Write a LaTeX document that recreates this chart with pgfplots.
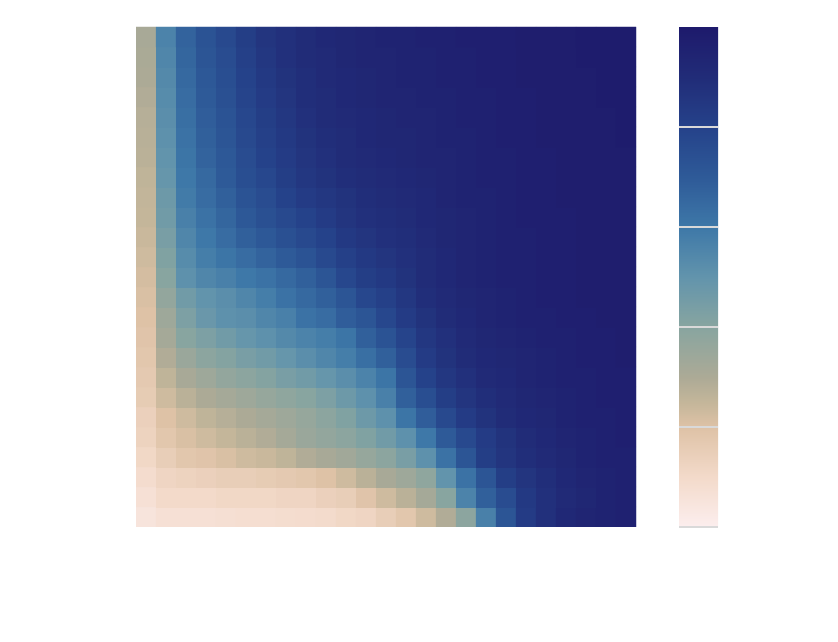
\documentclass[border=0pt]{standalone}
\usepackage{pgfplots}
\pgfplotsset{compat=1.18}
\begin{document}
\begin{tikzpicture}
\begin{axis}[name=main, width=500bp, height=500bp, scale only axis,
  xmin=-0.5, xmax=24.5, ymin=-0.5, ymax=24.5, ticks=none,
  axis line style={draw=none},
  colormap={rainmap}{rgb255(0cm)=(252,238,238); rgb255(2cm)=(243,218,202); rgb255(4cm)=(222,194,166); rgb255(5cm)=(196,182,154); rgb255(6cm)=(172,170,150); rgb255(8cm)=(136,165,160); rgb255(10cm)=(98,148,172); rgb255(12cm)=(62,120,168); rgb255(14cm)=(46,90,152); rgb255(16cm)=(37,66,138); rgb255(18cm)=(33,44,120); rgb255(20cm)=(30,26,108)},
  point meta min=0, point meta max=1,
  colorbar,
  colorbar/width=39bp,
  colorbar shift/.style={xshift=43bp},
  colorbar style={scale only axis,
    ytick={0,0.2,0.4,0.6,0.8}, yticklabels={}, major tick length=0pt,
    ymajorgrids, major grid style={white!70!gray, line width=1.2bp}, axis line style={draw=none}},
]
\addplot[matrix plot*, mesh/cols=25, mesh/ordering=x varies, point meta=explicit] table[meta=z, row sep=\\] {
x y z\\
0 0 0.05\\ 1 0 0.07\\ 2 0 0.07\\ 3 0 0.07\\ 4 0 0.075\\ 5 0 0.08\\ 6 0 0.08\\ 7 0 0.085\\ 8 0 0.09\\ 9 0 0.095\\ 10 0 0.11\\ 11 0 0.12\\ 12 0 0.15\\ 13 0 0.18\\ 14 0 0.23\\ 15 0 0.29\\ 16 0 0.39\\ 17 0 0.57\\ 18 0 0.72\\ 19 0 0.83\\ 20 0 0.88\\ 21 0 0.92\\ 22 0 0.94\\ 23 0 0.95\\ 24 0 0.96\\
0 1 0.07\\ 1 1 0.10\\ 2 1 0.10\\ 3 1 0.10\\ 4 1 0.11\\ 5 1 0.11\\ 6 1 0.11\\ 7 1 0.12\\ 8 1 0.12\\ 9 1 0.14\\ 10 1 0.15\\ 11 1 0.19\\ 12 1 0.23\\ 13 1 0.27\\ 14 1 0.32\\ 15 1 0.40\\ 16 1 0.56\\ 17 1 0.68\\ 18 1 0.76\\ 19 1 0.84\\ 20 1 0.88\\ 21 1 0.91\\ 22 1 0.93\\ 23 1 0.95\\ 24 1 0.96\\
0 2 0.09\\ 1 2 0.12\\ 2 2 0.13\\ 3 2 0.14\\ 4 2 0.15\\ 5 2 0.15\\ 6 2 0.16\\ 7 2 0.17\\ 8 2 0.18\\ 9 2 0.20\\ 10 2 0.23\\ 11 2 0.27\\ 12 2 0.31\\ 13 2 0.34\\ 14 2 0.38\\ 15 2 0.50\\ 16 2 0.62\\ 17 2 0.72\\ 18 2 0.82\\ 19 2 0.86\\ 20 2 0.89\\ 21 2 0.92\\ 22 2 0.94\\ 23 2 0.95\\ 24 2 0.96\\
0 3 0.11\\ 1 3 0.15\\ 2 3 0.18\\ 3 3 0.19\\ 4 3 0.21\\ 5 3 0.23\\ 6 3 0.24\\ 7 3 0.26\\ 8 3 0.29\\ 9 3 0.31\\ 10 3 0.33\\ 11 3 0.36\\ 12 3 0.39\\ 13 3 0.44\\ 14 3 0.51\\ 15 3 0.62\\ 16 3 0.72\\ 17 3 0.82\\ 18 3 0.86\\ 19 3 0.89\\ 20 3 0.91\\ 21 3 0.93\\ 22 3 0.95\\ 23 3 0.96\\ 24 3 0.96\\
0 4 0.13\\ 1 4 0.18\\ 2 4 0.21\\ 3 4 0.23\\ 4 4 0.25\\ 5 4 0.27\\ 6 4 0.29\\ 7 4 0.32\\ 8 4 0.35\\ 9 4 0.37\\ 10 4 0.39\\ 11 4 0.42\\ 12 4 0.46\\ 13 4 0.51\\ 14 4 0.60\\ 15 4 0.70\\ 16 4 0.77\\ 17 4 0.83\\ 18 4 0.87\\ 19 4 0.90\\ 20 4 0.92\\ 21 4 0.94\\ 22 4 0.95\\ 23 4 0.96\\ 24 4 0.97\\
0 5 0.14\\ 1 5 0.20\\ 2 5 0.23\\ 3 5 0.26\\ 4 5 0.28\\ 5 5 0.30\\ 6 5 0.32\\ 7 5 0.34\\ 8 5 0.36\\ 9 5 0.39\\ 10 5 0.42\\ 11 5 0.47\\ 12 5 0.51\\ 13 5 0.61\\ 14 5 0.69\\ 15 5 0.77\\ 16 5 0.83\\ 17 5 0.87\\ 18 5 0.90\\ 19 5 0.92\\ 20 5 0.93\\ 21 5 0.95\\ 22 5 0.96\\ 23 5 0.96\\ 24 5 0.97\\
0 6 0.16\\ 1 6 0.23\\ 2 6 0.27\\ 3 6 0.30\\ 4 6 0.32\\ 5 6 0.34\\ 6 6 0.36\\ 7 6 0.38\\ 8 6 0.40\\ 9 6 0.43\\ 10 6 0.47\\ 11 6 0.51\\ 12 6 0.57\\ 13 6 0.68\\ 14 6 0.75\\ 15 6 0.82\\ 16 6 0.86\\ 17 6 0.89\\ 18 6 0.91\\ 19 6 0.93\\ 20 6 0.94\\ 21 6 0.95\\ 22 6 0.96\\ 23 6 0.97\\ 24 6 0.97\\
0 7 0.17\\ 1 7 0.26\\ 2 7 0.31\\ 3 7 0.34\\ 4 7 0.37\\ 5 7 0.39\\ 6 7 0.41\\ 7 7 0.44\\ 8 7 0.46\\ 9 7 0.49\\ 10 7 0.52\\ 11 7 0.56\\ 12 7 0.61\\ 13 7 0.72\\ 14 7 0.80\\ 15 7 0.85\\ 16 7 0.88\\ 17 7 0.91\\ 18 7 0.92\\ 19 7 0.94\\ 20 7 0.95\\ 21 7 0.96\\ 22 7 0.96\\ 23 7 0.97\\ 24 7 0.97\\
0 8 0.18\\ 1 8 0.29\\ 2 8 0.35\\ 3 8 0.39\\ 4 8 0.41\\ 5 8 0.44\\ 6 8 0.46\\ 7 8 0.49\\ 8 8 0.52\\ 9 8 0.55\\ 10 8 0.58\\ 11 8 0.63\\ 12 8 0.68\\ 13 8 0.76\\ 14 8 0.83\\ 15 8 0.87\\ 16 8 0.90\\ 17 8 0.92\\ 18 8 0.93\\ 19 8 0.94\\ 20 8 0.95\\ 21 8 0.96\\ 22 8 0.97\\ 23 8 0.97\\ 24 8 0.98\\
0 9 0.19\\ 1 9 0.32\\ 2 9 0.40\\ 3 9 0.43\\ 4 9 0.46\\ 5 9 0.49\\ 6 9 0.51\\ 7 9 0.54\\ 8 9 0.56\\ 9 9 0.58\\ 10 9 0.61\\ 11 9 0.68\\ 12 9 0.73\\ 13 9 0.79\\ 14 9 0.85\\ 15 9 0.88\\ 16 9 0.91\\ 17 9 0.93\\ 18 9 0.94\\ 19 9 0.95\\ 20 9 0.96\\ 21 9 0.96\\ 22 9 0.97\\ 23 9 0.97\\ 24 9 0.98\\
0 10 0.20\\ 1 10 0.34\\ 2 10 0.43\\ 3 10 0.48\\ 4 10 0.51\\ 5 10 0.52\\ 6 10 0.55\\ 7 10 0.57\\ 8 10 0.62\\ 9 10 0.64\\ 10 10 0.69\\ 11 10 0.72\\ 12 10 0.78\\ 13 10 0.83\\ 14 10 0.87\\ 15 10 0.90\\ 16 10 0.92\\ 17 10 0.94\\ 18 10 0.95\\ 19 10 0.96\\ 20 10 0.96\\ 21 10 0.97\\ 22 10 0.97\\ 23 10 0.98\\ 24 10 0.98\\
0 11 0.21\\ 1 11 0.37\\ 2 11 0.46\\ 3 11 0.50\\ 4 11 0.52\\ 5 11 0.55\\ 6 11 0.58\\ 7 11 0.62\\ 8 11 0.65\\ 9 11 0.68\\ 10 11 0.72\\ 11 11 0.78\\ 12 11 0.81\\ 13 11 0.85\\ 14 11 0.89\\ 15 11 0.91\\ 16 11 0.93\\ 17 11 0.94\\ 18 11 0.95\\ 19 11 0.96\\ 20 11 0.97\\ 21 11 0.97\\ 22 11 0.98\\ 23 11 0.98\\ 24 11 0.98\\
0 12 0.22\\ 1 12 0.40\\ 2 12 0.51\\ 3 12 0.55\\ 4 12 0.57\\ 5 12 0.60\\ 6 12 0.62\\ 7 12 0.65\\ 8 12 0.68\\ 9 12 0.72\\ 10 12 0.78\\ 11 12 0.82\\ 12 12 0.84\\ 13 12 0.87\\ 14 12 0.90\\ 15 12 0.92\\ 16 12 0.94\\ 17 12 0.95\\ 18 12 0.96\\ 19 12 0.96\\ 20 12 0.97\\ 21 12 0.97\\ 22 12 0.98\\ 23 12 0.98\\ 24 12 0.98\\
0 13 0.23\\ 1 13 0.42\\ 2 13 0.53\\ 3 13 0.58\\ 4 13 0.61\\ 5 13 0.64\\ 6 13 0.67\\ 7 13 0.70\\ 8 13 0.73\\ 9 13 0.77\\ 10 13 0.81\\ 11 13 0.84\\ 12 13 0.86\\ 13 13 0.88\\ 14 13 0.90\\ 15 13 0.92\\ 16 13 0.94\\ 17 13 0.95\\ 18 13 0.96\\ 19 13 0.96\\ 20 13 0.97\\ 21 13 0.97\\ 22 13 0.98\\ 23 13 0.98\\ 24 13 0.98\\
0 14 0.24\\ 1 14 0.44\\ 2 14 0.55\\ 3 14 0.60\\ 4 14 0.64\\ 5 14 0.68\\ 6 14 0.71\\ 7 14 0.74\\ 8 14 0.77\\ 9 14 0.80\\ 10 14 0.84\\ 11 14 0.86\\ 12 14 0.88\\ 13 14 0.89\\ 14 14 0.91\\ 15 14 0.93\\ 16 14 0.94\\ 17 14 0.95\\ 18 14 0.96\\ 19 14 0.96\\ 20 14 0.97\\ 21 14 0.97\\ 22 14 0.98\\ 23 14 0.98\\ 24 14 0.98\\
0 15 0.25\\ 1 15 0.46\\ 2 15 0.57\\ 3 15 0.62\\ 4 15 0.66\\ 5 15 0.71\\ 6 15 0.74\\ 7 15 0.77\\ 8 15 0.80\\ 9 15 0.83\\ 10 15 0.86\\ 11 15 0.88\\ 12 15 0.89\\ 13 15 0.90\\ 14 15 0.92\\ 15 15 0.93\\ 16 15 0.94\\ 17 15 0.95\\ 18 15 0.96\\ 19 15 0.97\\ 20 15 0.97\\ 21 15 0.97\\ 22 15 0.98\\ 23 15 0.98\\ 24 15 0.98\\
0 16 0.255\\ 1 16 0.47\\ 2 16 0.59\\ 3 16 0.64\\ 4 16 0.68\\ 5 16 0.73\\ 6 16 0.76\\ 7 16 0.80\\ 8 16 0.83\\ 9 16 0.85\\ 10 16 0.87\\ 11 16 0.89\\ 12 16 0.90\\ 13 16 0.91\\ 14 16 0.92\\ 15 16 0.94\\ 16 16 0.95\\ 17 16 0.95\\ 18 16 0.96\\ 19 16 0.97\\ 20 16 0.97\\ 21 16 0.98\\ 22 16 0.98\\ 23 16 0.98\\ 24 16 0.98\\
0 17 0.26\\ 1 17 0.49\\ 2 17 0.60\\ 3 17 0.65\\ 4 17 0.70\\ 5 17 0.75\\ 6 17 0.78\\ 7 17 0.82\\ 8 17 0.85\\ 9 17 0.87\\ 10 17 0.89\\ 11 17 0.90\\ 12 17 0.91\\ 13 17 0.92\\ 14 17 0.93\\ 15 17 0.94\\ 16 17 0.95\\ 17 17 0.96\\ 18 17 0.96\\ 19 17 0.97\\ 20 17 0.97\\ 21 17 0.98\\ 22 17 0.98\\ 23 17 0.98\\ 24 17 0.98\\
0 18 0.27\\ 1 18 0.50\\ 2 18 0.61\\ 3 18 0.67\\ 4 18 0.71\\ 5 18 0.76\\ 6 18 0.80\\ 7 18 0.83\\ 8 18 0.86\\ 9 18 0.88\\ 10 18 0.90\\ 11 18 0.91\\ 12 18 0.92\\ 13 18 0.93\\ 14 18 0.94\\ 15 18 0.94\\ 16 18 0.95\\ 17 18 0.96\\ 18 18 0.96\\ 19 18 0.97\\ 20 18 0.97\\ 21 18 0.98\\ 22 18 0.98\\ 23 18 0.98\\ 24 18 0.98\\
0 19 0.275\\ 1 19 0.51\\ 2 19 0.62\\ 3 19 0.68\\ 4 19 0.72\\ 5 19 0.77\\ 6 19 0.81\\ 7 19 0.84\\ 8 19 0.87\\ 9 19 0.89\\ 10 19 0.90\\ 11 19 0.92\\ 12 19 0.93\\ 13 19 0.93\\ 14 19 0.94\\ 15 19 0.95\\ 16 19 0.95\\ 17 19 0.96\\ 18 19 0.97\\ 19 19 0.97\\ 20 19 0.98\\ 21 19 0.98\\ 22 19 0.98\\ 23 19 0.98\\ 24 19 0.99\\
0 20 0.28\\ 1 20 0.52\\ 2 20 0.63\\ 3 20 0.69\\ 4 20 0.73\\ 5 20 0.78\\ 6 20 0.82\\ 7 20 0.85\\ 8 20 0.88\\ 9 20 0.90\\ 10 20 0.91\\ 11 20 0.92\\ 12 20 0.93\\ 13 20 0.94\\ 14 20 0.94\\ 15 20 0.95\\ 16 20 0.96\\ 17 20 0.96\\ 18 20 0.97\\ 19 20 0.97\\ 20 20 0.98\\ 21 20 0.98\\ 22 20 0.98\\ 23 20 0.98\\ 24 20 0.99\\
0 21 0.29\\ 1 21 0.53\\ 2 21 0.64\\ 3 21 0.70\\ 4 21 0.74\\ 5 21 0.79\\ 6 21 0.83\\ 7 21 0.86\\ 8 21 0.89\\ 9 21 0.90\\ 10 21 0.92\\ 11 21 0.93\\ 12 21 0.94\\ 13 21 0.94\\ 14 21 0.95\\ 15 21 0.95\\ 16 21 0.96\\ 17 21 0.96\\ 18 21 0.97\\ 19 21 0.97\\ 20 21 0.98\\ 21 21 0.98\\ 22 21 0.98\\ 23 21 0.99\\ 24 21 0.99\\
0 22 0.30\\ 1 22 0.54\\ 2 22 0.65\\ 3 22 0.71\\ 4 22 0.75\\ 5 22 0.80\\ 6 22 0.84\\ 7 22 0.87\\ 8 22 0.89\\ 9 22 0.91\\ 10 22 0.92\\ 11 22 0.93\\ 12 22 0.94\\ 13 22 0.95\\ 14 22 0.95\\ 15 22 0.96\\ 16 22 0.96\\ 17 22 0.97\\ 18 22 0.97\\ 19 22 0.98\\ 20 22 0.98\\ 21 22 0.98\\ 22 22 0.98\\ 23 22 0.99\\ 24 22 0.99\\
0 23 0.305\\ 1 23 0.55\\ 2 23 0.66\\ 3 23 0.72\\ 4 23 0.76\\ 5 23 0.81\\ 6 23 0.85\\ 7 23 0.88\\ 8 23 0.90\\ 9 23 0.91\\ 10 23 0.93\\ 11 23 0.94\\ 12 23 0.94\\ 13 23 0.95\\ 14 23 0.95\\ 15 23 0.96\\ 16 23 0.96\\ 17 23 0.97\\ 18 23 0.97\\ 19 23 0.98\\ 20 23 0.98\\ 21 23 0.98\\ 22 23 0.99\\ 23 23 0.99\\ 24 23 0.99\\
0 24 0.31\\ 1 24 0.56\\ 2 24 0.67\\ 3 24 0.73\\ 4 24 0.77\\ 5 24 0.82\\ 6 24 0.86\\ 7 24 0.88\\ 8 24 0.90\\ 9 24 0.92\\ 10 24 0.93\\ 11 24 0.94\\ 12 24 0.95\\ 13 24 0.95\\ 14 24 0.96\\ 15 24 0.96\\ 16 24 0.97\\ 17 24 0.97\\ 18 24 0.97\\ 19 24 0.98\\ 20 24 0.98\\ 21 24 0.98\\ 22 24 0.99\\ 23 24 0.99\\ 24 24 0.99\\
};
\end{axis}
\path (main.south west) ++(-136bp,-115bp) coordinate (bbA);
\path (main.north east) ++(202bp,27bp) coordinate (bbB);
\path (bbA) rectangle (bbB);
\end{tikzpicture}
\end{document}
